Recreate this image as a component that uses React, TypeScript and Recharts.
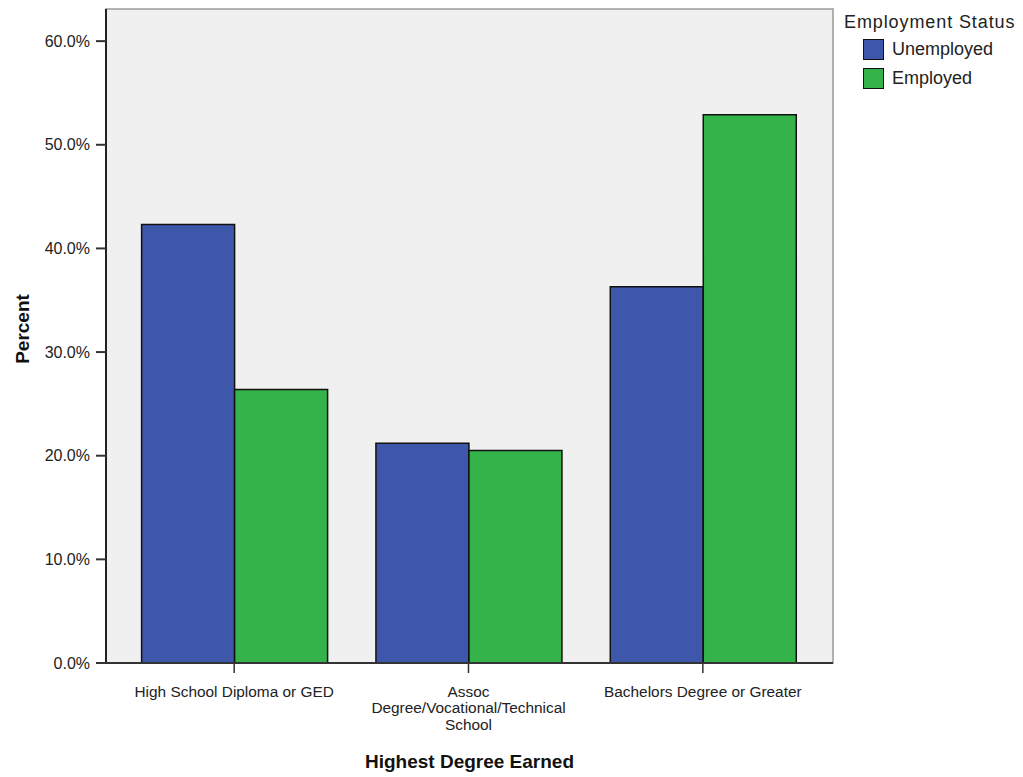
import React from 'react';
import * as R from 'recharts';
import { BarChart, Bar, XAxis, YAxis, CartesianGrid, ReferenceLine, Text } from 'recharts';

const categories = [
  'High School Diploma or GED',
  'Assoc Degree/Vocational/Technical School',
  'Bachelors Degree or Greater',
];
const unemployed = [42.3, 21.2, 36.3];
const employed = [26.4, 20.5, 52.9];
const yTicks = [0, 10, 20, 30, 40, 50, 60];
const seriesNames = ['Unemployed', 'Employed'];
const seriesColors = ['#3e57ab', '#33b34a'];

const data = categories.map((c, i) => ({ category: c, Unemployed: unemployed[i], Employed: employed[i] }));

const FONT = '"Liberation Sans", Arial, sans-serif';

const PlotFrame = () => {
  const hook = (R as any).usePlotArea;
  const p = hook ? hook() : null;
  if (!p) return null;
  return <rect x={p.x} y={p.y} width={p.width} height={p.height} fill="none" stroke="#9a9a9a" strokeWidth={1.5} />;
};

const XTick = (props: any) => {
  const { x, y, payload } = props;
  return (
    <Text
      x={x}
      y={y}
      textAnchor="middle"
      verticalAnchor="start"
      width={228}
      lineHeight={16.5}
      fontSize={15.4}
      fontFamily={FONT}
      fill="#222"
    >
      {payload.value}
    </Text>
  );
};

const LegendBox = () => (
  <div
    style={{
      position: 'absolute',
      left: 836,
      top: 4,
      width: 185,
      fontFamily: FONT,
      fontSize: 18,
      color: '#222',
      lineHeight: '20px',
    }}
  >
    <div style={{ whiteSpace: 'nowrap', letterSpacing: 0.9 }}>Employment Status</div>
    <div style={{ marginTop: 2.5 }}>
      {seriesNames.map((n, i) => (
        <div key={n} style={{ display: 'flex', alignItems: 'center', height: 29, marginLeft: 19 }}>
          <div
            style={{
              width: 19,
              height: 19,
              background: seriesColors[i],
              border: '1.5px solid #111',
            }}
          />
          <span style={{ marginLeft: 8, whiteSpace: 'nowrap' }}>{n}</span>
        </div>
      ))}
    </div>
  </div>
);

export default function App() {
  return (
    <div style={{ position: 'relative', width: 1015, height: 769, background: '#fff' }}>
      <BarChart
        width={1015}
        height={769}
        data={data}
        margin={{ top: 1, right: 190, left: 0, bottom: 0 }}
        barCategoryGap="10.5%"
        barGap={0}
      >
        <CartesianGrid horizontal={false} vertical={false} fill="#f0f0f0" />
        <PlotFrame />
        <XAxis
          dataKey="category"
          height={114}
          padding={{ left: 11, right: 13 }}
          axisLine={false}
          tickSize={10}
          tickMargin={13}
          tickLine={{ stroke: '#333', strokeWidth: 1.5 }}
          tick={<XTick />}
          interval={0}
          label={{
            value: 'Highest Degree Earned',
            position: 'insideBottom',
            offset: 9,
            style: { fontFamily: FONT, fontSize: 19, fontWeight: 'bold', fill: '#111' },
          }}
        />
        <YAxis
          width={98}
          domain={[0, 63.1]}
          ticks={yTicks}
          tickFormatter={(v: number) => v.toFixed(1) + '%'}
          tickSize={10}
          tickMargin={6}
          axisLine={{ stroke: '#222', strokeWidth: 2 }}
          tickLine={{ stroke: '#333', strokeWidth: 2 }}
          tick={{ fontFamily: FONT, fontSize: 16, fill: '#222' }}
          allowDataOverflow
          label={{
            value: 'Percent',
            angle: -90,
            position: 'insideLeft',
            offset: 14,
            dy: -7,
            style: { fontFamily: FONT, fontSize: 19, fontWeight: 'bold', fill: '#111', textAnchor: 'middle' },
          }}
        />
        <ReferenceLine y={0} stroke="#333" strokeWidth={2} />
        <Bar dataKey="Unemployed" fill={seriesColors[0]} stroke="#111" strokeWidth={1.5} isAnimationActive={false} />
        <Bar dataKey="Employed" fill={seriesColors[1]} stroke="#111" strokeWidth={1.5} isAnimationActive={false} />
      </BarChart>
      <LegendBox />
    </div>
  );
}
